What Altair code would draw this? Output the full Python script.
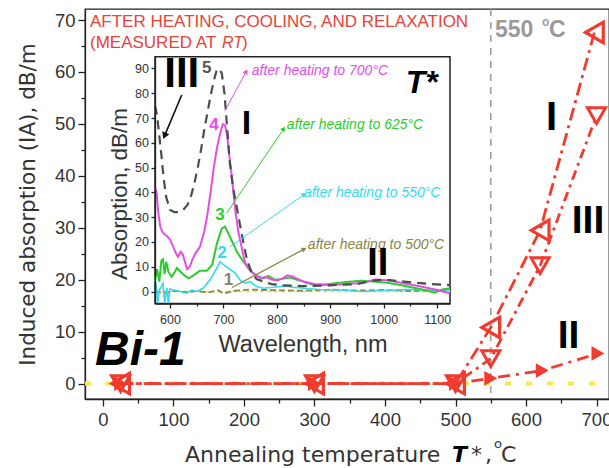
import math
import altair as alt
import pandas as pd

# ================= main panel: induced absorption vs annealing temperature =================
temp_I = [25, 300, 500, 550, 620, 697]
ia_I = [0, 0, 0, 10.8, 29.5, 67.6]
temp_III = [25, 300, 500, 550, 620, 700]
ia_III = [0, 0, 0, 4.8, 22.7, 51.6]
temp_II = [25, 300, 500, 550, 623, 702]
ia_II = [0, 0, 0, 1.0, 2.5, 5.8]
base_T = [-25.5, 717.7]
base_v = [0, 0]
t_mark = [550]

main_x_dom = [-25.5, 717.7]
main_y_dom = [-2.98, 72.12]
x_ticks_main = list(range(0, 701, 50))
y_ticks_main = list(range(0, 71, 5))

# ================= inset: absorption spectra =================
nm_5 = [572, 576, 580, 584, 588, 593, 600, 608, 616, 625, 633, 640, 646, 652, 658, 664, 670, 676, 682,
        687, 692, 697, 702, 707, 712, 718, 725, 731, 738, 744, 752, 762, 775, 790, 810, 850, 900, 950,
        980, 1000, 1030, 1060, 1090, 1124]
ab_5 = [75, 71, 63, 55, 46, 38, 33, 32, 32, 33, 35, 39, 44, 50, 57, 65, 72, 79, 85,
        89, 90, 88, 80, 66, 52, 42, 34, 27, 19, 13, 8, 5, 4, 3, 2.5, 2.2, 2.5, 3,
        4.4, 4.8, 4.2, 3.5, 3, 2.6]

nm_4 = [572, 575, 578, 582, 586, 590, 594, 600, 606, 611, 615, 620, 624, 628, 632, 637, 642, 648, 656,
        664, 670, 676, 682, 688, 694, 699, 703, 707, 711, 716, 722, 728, 734, 740, 746, 752, 760, 770,
        780, 790, 800, 810, 820, 830, 840, 850, 870, 900, 930, 960, 985, 1010, 1040, 1070, 1100, 1124]
ab_4 = [42, 40, 32, 26, 24, 23, 22.5, 21, 18, 15.5, 14, 16, 15, 12, 9, 10, 13, 15.5, 18,
        24, 31, 40, 50, 58, 64, 67.5, 67, 63, 55, 46, 33, 24, 18, 12, 9.5, 8, 6.5, 5.5,
        5.8, 4.8, 4.5, 5.2, 6.5, 6.0, 5.0, 4.0, 3.0, 2.6, 3.0, 3.4, 4.8, 4.4, 3.2, 2.0, 0.6, -0.7]

nm_3 = [572, 576, 580, 584, 587, 590, 593, 597, 603, 608, 613, 620, 627, 635, 644, 656, 669, 679, 688,
        697, 703, 712, 725, 737, 747, 756, 766, 775, 784, 797, 810, 825, 838, 850, 869, 881, 906, 931,
        956, 981, 1006, 1031, 1056, 1081, 1095, 1110, 1124]
ab_3 = [5, 9, 4, 12.5, 13, 7, 12, 8, 6, 7.5, 9.5, 8, 6.5, 5.3, 6.5, 8.4, 8.4, 10.7, 19.5,
        25.5, 26.2, 22.2, 16.1, 12.1, 9.4, 7.4, 6, 5.3, 6.3, 4.7, 5.1, 5.6, 4.7, 4, 2.6, 2.5, 3.2, 3.8,
        4.3, 4.0, 3.5, 2.6, 1.5, 0.4, -0.5, 0.8, 1.3]

nm_2 = [572, 575, 577, 580, 584, 587, 590, 594, 597, 600, 606, 619, 631, 641, 650, 662, 675, 684, 694,
        700, 709, 722, 731, 741, 750, 762, 775, 794, 812, 831, 850, 880, 920, 960, 1000, 1040, 1080, 1124]
ab_2 = [4.8, 1.0, -4.8, 0.6, 2.0, 3.3, -4.8, 1.5, -4.8, 1.0, 0.6, 0, -0.7, 0.6, 0, 1.3, 4.7, 8, 12.1,
        10.8, 9.4, 7.4, 4.7, 3.4, 4, 2, 1.3, 1.7, 2.2, 1.7, 1.3, 0.8, 0.6, 0, 0.4, 0.8, 0.6, 0.6]

nm_1 = [572, 590, 610, 630, 650, 670, 690, 700, 720, 750, 800, 850, 900, 950, 1000, 1050, 1100, 1124]
ab_1 = [0, -0.5, 0.3, -0.3, 0.2, -0.4, 0.5, -0.8, 0.3, 0.8, 0.5, 0.3, 0.8, 0.4, 0.6, 0.2, 0.5, 0.3]

nm_0 = [572, 1124]
ab_0 = [0, 0]

in_x_dom = [572, 1124]
in_y_dom = [-4.84, 94.76]
x_ticks_in = list(range(600, 1101, 50))
y_ticks_in = list(range(0, 91, 10))

# inset annotation arrows (start -> end, arrowhead at end)
arr_nm0 = [703, 706, 712, 716, 622]
arr_a0 = [73, 31.6, 18, 1.6, 79.3]
arr_nm1 = [742, 812, 850, 850, 590.6]
arr_a1 = [88.5, 65.4, 39, 17, 63.2]
arr_col = ["#e64de6", "#2bcc2b", "#33dbf0", "#8c8442", "#111111"]
arr_w = [1.0, 1.0, 1.0, 1.2, 1.6]
arr_head = [30, 30, 30, 30, 60]

ann_nm = [753, 818.7, 851, 858]
ann_a = [89, 67, 39.6, 18.8]
ann_text = ["after heating to 700°C", "after heating to 625°C", "after heating to 550°C", "after heating to 500°C"]
ann_col = ["#e64de6", "#2bcc2b", "#33dbf0", "#8c8442"]

num_nm = [669, 682.5, 693.7, 697.5, 709.7]
num_a = [90, 67, 30.9, 15.7, 4.8]
num_text = ["5", "4", "3", "2", "1"]
num_col = ["#555555", "#e64de6", "#2bcc2b", "#33dbf0", "#8c7f6a"]

rom_nm = [622, 743, 989]
rom_a = [87.8, 67.4, 11.1]
rom_text = ["III", "I", "II"]
rom_fs = [42, 34, 38]

# ================= styling helpers =================
RED = "#f23a2e"
common_axis = dict(labelFont="Liberation Sans", labelColor="#333", domainColor="#222", tickColor="#222",
                   domainWidth=1.3, tickWidth=1.3, grid=False, labelOverlap=False, labelFlush=False)

XM = alt.Scale(domain=main_x_dom, nice=False, zero=False)
YM = alt.Scale(domain=main_y_dom, nice=False, zero=False)
AXM = alt.Axis(values=x_ticks_main, format="d", labelExpr="datum.value % 100 === 0 ? datum.label : ''",
               tickSize={"condition": {"test": "datum.value % 100 === 0", "value": 7}, "value": 4},
               labelFontSize=18.5, labelPadding=4, title=None, **common_axis)
AYM = alt.Axis(values=y_ticks_main, format="d", labelExpr="datum.value % 10 === 0 ? datum.label : ''",
               tickSize={"condition": {"test": "datum.value % 10 === 0", "value": 7}, "value": 4},
               labelFontSize=18.5, labelPadding=3, title="Induced absorption (IA), dB/m",
               titleFont="DejaVu Sans", titleFontSize=21.5, titleFontWeight="normal", titleColor="#333",
               titlePadding=15, **common_axis)


def MX(f):
    return alt.X(f, type="quantitative", scale=XM, axis=AXM)


def MY(f):
    return alt.Y(f, type="quantitative", scale=YM, axis=AYM)


XI = alt.Scale(domain=in_x_dom, range=[70, 365], nice=False, zero=False)
YI = alt.Scale(domain=in_y_dom, range=[294.5, 47.7], nice=False, zero=False)
AXI = alt.Axis(orient="bottom", offset=-95.5, values=x_ticks_in, format="d",
               labelExpr="datum.value % 100 === 0 ? datum.label : ''",
               tickSize={"condition": {"test": "datum.value % 100 === 0", "value": 4.5}, "value": 2.5},
               labelFontSize=12.5, labelPadding=5, title="Wavelength, nm", titleFont="Liberation Sans",
               titleFontSize=23.5, titleFontWeight="normal", titleColor="#333", titlePadding=7,
               zindex=1, **common_axis)
AYI = alt.Axis(orient="left", offset=-70, values=y_ticks_in, format="d", tickSize=4, labelFontSize=12.5,
               labelPadding=2.5, title=None, zindex=1, **common_axis)


def IX(f):
    return alt.X(f, type="quantitative", scale=XI, axis=AXI)


def IY(f):
    return alt.Y(f, type="quantitative", scale=YI, axis=AYI)


one = pd.DataFrame({"k": [0]})


def ptext(txt, px, py, **kw):
    opts = dict(font="Liberation Sans", fontSize=16, color="#333", align="left", baseline="alphabetic")
    opts.update(kw)
    return alt.Chart(one).mark_text(text=txt, **opts).encode(x=alt.value(px), y=alt.value(py))


# ================= main panel layers =================
base_line = alt.Chart(pd.DataFrame({"T": base_T, "v": base_v})).mark_line(
    color="#f2ea45", strokeWidth=4, strokeDash=[6, 15]).encode(x=MX("T"), y=MY("v"))
vline = alt.Chart(pd.DataFrame({"T": t_mark})).mark_rule(
    color="#9a9a9a", strokeWidth=1.5, strokeDash=[7, 6]).encode(x=MX("T"))


def series(T, v, dash, shape, size, filled, sw):
    df = pd.DataFrame({"T": T, "v": v})
    line = alt.Chart(df).mark_line(color=RED, strokeWidth=2.8, strokeDash=dash).encode(x=MX("T"), y=MY("v"))
    pts = alt.Chart(df).mark_point(shape=shape, size=size, filled=filled, color=RED, strokeWidth=sw,
                                   opacity=1).encode(x=MX("T"), y=MY("v"))
    return line, pts


lI, pI = series(temp_I, ia_I, [13, 5, 3, 5], "triangle-left", 420, False, 3.2)
lIII, pIII = series(temp_III, ia_III, [10, 5, 3, 5], "triangle-down", 330, False, 3.0)
lII, pII = series(temp_II, ia_II, [12, 6, 3, 6], "triangle-right", 220, True, 1)

RT_RED = "#e8423a"
main_texts = [
    ptext("AFTER HEATING, COOLING, AND RELAXATION", 5, 18.3, fontSize=17, color=RT_RED),
    ptext("(MEASURED AT", 5, 39.3, fontSize=17, color=RT_RED),
    ptext("RT", 137, 39.3, fontSize=16, color=RT_RED, fontStyle="italic"),
    ptext(")", 157, 39.3, fontSize=17, color=RT_RED),
    ptext("550", 410, 27.7, fontSize=23, fontWeight="bold", color="#9a9a9a"),
    ptext("o", 457, 17, fontSize=12, fontWeight="bold", color="#9a9a9a"),
    ptext("C", 464, 27.7, fontSize=23, fontWeight="bold", color="#9a9a9a"),
    ptext("I", 466.5, 108.5, fontSize=40, fontWeight="bold", color="#000", align="center", baseline="middle"),
    ptext("III", 503, 212, fontSize=39, fontWeight="bold", color="#000", align="center", baseline="middle"),
    ptext("II", 483.5, 327, fontSize=39, fontWeight="bold", color="#000", align="center", baseline="middle"),
    ptext("Bi-1", 10, 356, fontSize=48, fontWeight="bold", fontStyle="italic", color="#000"),
    ptext("Annealing temperature", 100, 453, font="DejaVu Sans", fontSize=22),
    ptext("T", 367, 453, font="DejaVu Sans", fontSize=22, fontWeight="bold", fontStyle="italic", color="#000"),
    ptext("*", 386, 453, font="DejaVu Sans", fontSize=22),
    ptext(",", 400, 453, font="DejaVu Sans", fontSize=22),
    ptext("o", 409, 439, font="DejaVu Sans", fontSize=13),
    ptext("C", 416, 453, font="DejaVu Sans", fontSize=22),
]

main = alt.layer(base_line, vline, lI, lIII, lII, pIII, pI, pII, *main_texts)

# ================= inset layers =================
frame = alt.Chart(pd.DataFrame({"x0": [in_x_dom[0]], "x1": [in_x_dom[1]],
                                "y0": [in_y_dom[0]], "y1": [in_y_dom[1]]})).mark_rect(
    fill="white", stroke="#222", strokeWidth=1.5).encode(x=IX("x0"), x2="x1", y=IY("y0"), y2="y1")


def curve(nm, ab, color, width, dash=None):
    kw = dict(color=color, strokeWidth=width)
    if dash:
        kw["strokeDash"] = dash
    return alt.Chart(pd.DataFrame({"nm": nm, "a": ab})).mark_line(**kw).encode(x=IX("nm"), y=IY("a"))


c0 = curve(nm_0, ab_0, "#e8e04a", 1.3, [4, 3])
c1 = curve(nm_1, ab_1, "#8c8442", 1.8, [6, 3])
c2 = curve(nm_2, ab_2, "#33dbf0", 1.6)
c3 = curve(nm_3, ab_3, "#2bcc2b", 2.0)
c4 = curve(nm_4, ab_4, "#e64de6", 2.0)
c5 = curve(nm_5, ab_5, "#4d4d4d", 2.2, [9, 6])

px_per_nm = 295.0 / (in_x_dom[1] - in_x_dom[0])
px_per_ab = (294.5 - 47.7) / (in_y_dom[1] - in_y_dom[0])
angles = []
for a, b, c, d in zip(arr_nm0, arr_a0, arr_nm1, arr_a1):
    dx = (c - a) * px_per_nm
    dy = -(d - b) * px_per_ab
    angles.append(math.degrees(math.atan2(dx, -dy)) % 360)

df_arr = pd.DataFrame({"nm0": arr_nm0, "a0": arr_a0, "nm1": arr_nm1, "a1": arr_a1,
                       "c": arr_col, "w": arr_w, "ang": angles, "hs": arr_head})
arr_lines = alt.Chart(df_arr).mark_rule().encode(
    x=IX("nm0"), y=IY("a0"), x2="nm1", y2="a1",
    color=alt.Color("c:N", scale=None), size=alt.Size("w:Q", scale=None))
arr_heads = alt.Chart(df_arr).mark_point(shape="triangle", filled=True, opacity=1).encode(
    x=IX("nm1"), y=IY("a1"), color=alt.Color("c:N", scale=None),
    angle=alt.Angle("ang:Q", scale=None), size=alt.Size("hs:Q", scale=None))

ann = alt.Chart(pd.DataFrame({"nm": ann_nm, "a": ann_a, "t": ann_text, "c": ann_col})).mark_text(
    font="Liberation Sans", fontStyle="italic", fontSize=14, align="left", baseline="middle").encode(
    x=IX("nm"), y=IY("a"), text="t:N", color=alt.Color("c:N", scale=None))
nums = alt.Chart(pd.DataFrame({"nm": num_nm, "a": num_a, "t": num_text, "c": num_col})).mark_text(
    font="Liberation Sans", fontWeight="bold", fontSize=17, align="center", baseline="middle").encode(
    x=IX("nm"), y=IY("a"), text="t:N", color=alt.Color("c:N", scale=None))
roman = alt.Chart(pd.DataFrame({"nm": rom_nm, "a": rom_a, "t": rom_text, "fs": rom_fs})).mark_text(
    font="Liberation Sans", fontWeight="bold", align="center", baseline="middle", color="#000").encode(
    x=IX("nm"), y=IY("a"), text="t:N", size=alt.Size("fs:Q", scale=None))
tstar = alt.Chart(pd.DataFrame({"nm": [1071], "a": [84], "t": ["T*"]})).mark_text(
    font="Liberation Sans", fontWeight="bold", fontStyle="italic", fontSize=32, align="center",
    baseline="middle", color="#000").encode(x=IX("nm"), y=IY("a"), text="t:N")
in_ytitle = ptext("Absorption, dB/m", 42, 185, angle=270, align="center", fontSize=22.4)

inset = alt.layer(frame, c0, c1, c2, c3, c4, c5, arr_lines, arr_heads, ann, nums, roman, tstar, in_ytitle)

chart = alt.layer(main, inset).resolve_scale(x="independent", y="independent").properties(
    width=524, height=390,
    padding={"left": 85, "top": 9, "right": 0, "bottom": 69},
    autosize=alt.AutoSizeParams(type="none"),
).configure_view(stroke="#222", strokeWidth=1.3)

chart.save("out.html", embed_options={"renderer": "svg", "actions": False})
